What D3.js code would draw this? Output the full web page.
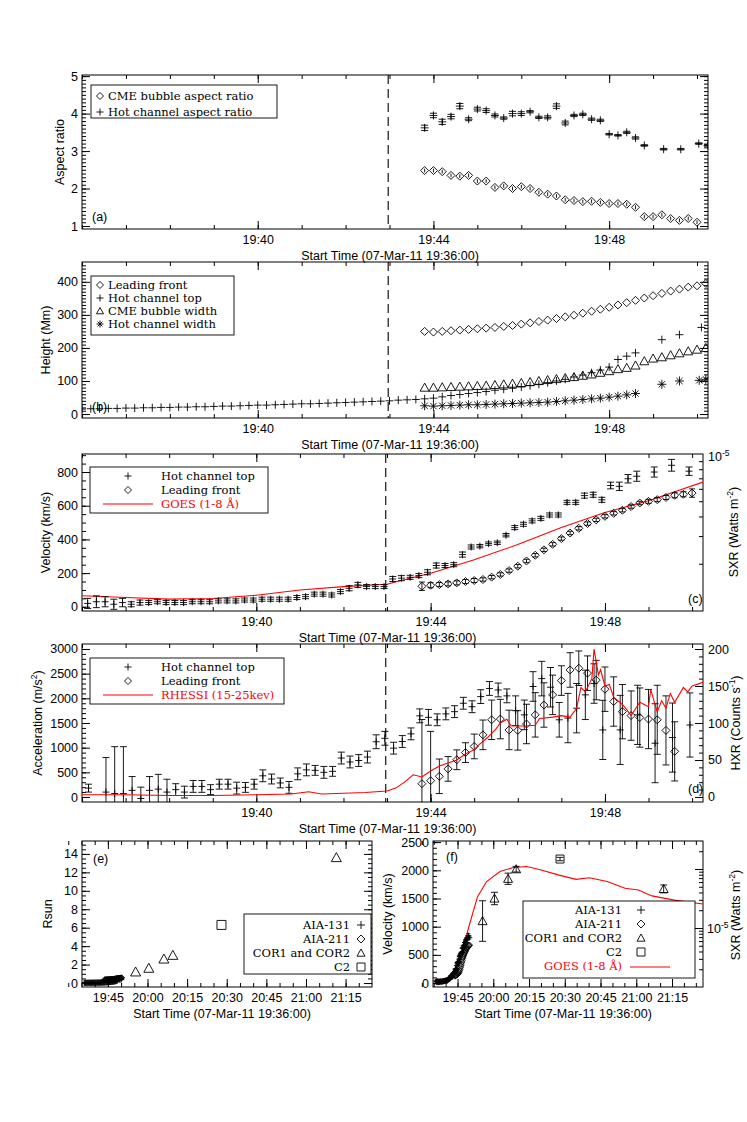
<!DOCTYPE html>
<html><head><meta charset="utf-8">
<script src="https://cdn.jsdelivr.net/npm/d3@7"></script>
<style>
body{margin:0;background:#fff}
text{font-family:"Liberation Sans",Arial,sans-serif;font-size:12.5px;fill:#000}
.leg{font-family:"DejaVu Serif",serif;font-size:11.5px}
</style></head><body>
<svg id="fig" width="747" height="1122"></svg>
<script>
// ---- data (time in minutes after 19:36:00) ----
const eruptT = 6.97;

// (a) aspect ratios
const bubbleArT = d3.range(7.8, 14.1, 0.2);
const bubbleAr = [2.48,2.48,2.45,2.35,2.33,2.35,2.2,2.2,2.03,2.07,2.0,2.05,2.0,1.9,1.85,1.8,1.7,1.68,1.65,1.66,1.63,1.6,1.6,1.58,1.5,1.25,1.25,1.3,1.2,1.15,1.2,1.1];
const hotArT = [7.8,8.0,8.2,8.4,8.6,8.8,9.0,9.2,9.4,9.6,9.8,10.0,10.2,10.4,10.6,10.8,11.0,11.2,11.4,11.6,11.8,12.0,12.2,12.4,12.6,12.8,13.24,13.63,14.04,14.24];
const hotAr = [3.62,3.95,3.78,3.92,4.2,3.85,4.12,4.08,3.95,3.88,4.0,4.0,4.05,3.9,3.9,4.2,3.75,3.95,3.98,3.85,3.82,3.45,3.42,3.5,3.35,3.15,3.05,3.05,3.2,3.15];
const hotArErr = [0.07,0.06,0.07,0.06,0.07,0.04,0.05,0.05,0.04,0.03,0.06,0.05,0.03,0.03,0.04,0.06,0.05,0.03,0.03,0.03,0.03,0.02,0.02,0.03,0.03,0.02,0.02,0.02,0.02,0.02];

// (b) heights (Mm)
const hotTopT = d3.range(0, 12.7, 0.2).concat([13.2, 13.6, 14.1]);
const hotTop = [15,16,16,17,17,18,18,19,19,20,20, 21,21,22,22,23,24,24,25,26,27, 27,28,29,30,31,31,32,33,34,35,
  36,37,38,39,40,42,43,44,46,48, 52,56,59,62,65,68,72,75,78,82, 86,90,95,100,105,112,118,125,133,142, 165,175,185, 225,240,262];
const frontT = d3.range(7.8, 14.3, 0.2);
const front = [250,248,250,252,254,256,258,260,262,265,268,272,276,280,284,289,294,299,305,311,317,323,330,337,344,351,358,365,372,378,384,388,395];
const bubbleW = [80,80,81,82,83,84,85,86,88,90,92,94,97,100,103,106,109,112,116,120,125,130,136,140,147,160,168,172,178,184,190,195,200];
const hotWT = d3.range(7.8, 12.7, 0.2).concat([13.2, 13.6, 14.05, 14.2]);
const hotW = [25,24,25,26,27,28,28,29,30,31,32,33,34,35,36,38,40,42,44,46,48,51,54,58,62, 90,100,102,105];

// (c) velocities (km/s)
const hotVelT = d3.range(0.13, 12.8, 0.2).concat([13.13, 13.53, 13.93]);
const hotVel = [20,30,30,15,25,15,25,25,30,25, 25,25,30,30,30,35,35,35,40,40, 45,45,45,45,55,60,75,75,70,90,
  110,130,120,120,120,165,170,175,185,205, 245,245,250,310,355,360,375,380,425,470,490,510,525,545,545,620,620,660,665,635,720,715,760,775, 800,840,805];
const hotVelErr = [30,35,30,30,25,15,15,12,12,12, 12,12,12,12,12,12,12,12,12,12, 12,12,12,12,12,12,12,12,12,12,
  15,15,12,12,12,15,15,12,12,15, 15,12,12,15,12,10,10,10,10,12,12,12,12,12,12,12,12,15,15,15,20,25,25,30, 30,35,25];
const frontVelT = d3.range(7.8, 14.1, 0.2);
const frontVel = [122,128,132,136,142,150,156,162,176,192,215,241,272,306,338,371,405,438,466,494,516,537,555,573,595,616,626,636,649,662,668,675];
const frontVelErr = [25,15,12,12,12,12,12,10,10,10,10,10,10,10,10,10,10,10,10,10,10,10,10,10,10,10,12,12,12,15,15,25];
const goesT = [0,1,2,3,4,5,6,7,7.5,8,9,10,11,12,13,14.25];
const goesFlux = [1.25,1.22,1.19,1.2,1.26,1.36,1.43,1.48,1.61,1.74,2.12,2.65,3.4,4.24,5.04,6.62]; // 1e-6 W m^-2

// (d) accelerations (m/s^2)
const hotAccT = [0.15,0.55].concat(d3.range(0.75, 12.0, 0.2), [12.35,12.75,13.15,13.55,13.95]);
const hotAcc = [180,100,70,70,135,-30,135,160,100,150,100,215,215,150,260,260,180,195,260,430,365,285,195,470,550,540,500,520,790,710,740,810,
  1120,1190,990,1125,1280,1645,1615,1565,1685,1730,1900,1830,2035,2200,2170,2050,1750,1665,2240,2400,2225,1565,1600,1800,2070,2300,1360,1360,1665,1090,1205,1460];
const hotAccErr = [80,700,950,950,280,230,280,300,260,120,120,120,120,100,100,100,120,100,100,120,100,100,120,120,120,100,120,100,120,120,120,120,
  140,140,120,120,120,140,160,120,120,120,120,120,140,140,140,140,300,300,300,350,400,350,500,500,500,400,600,700,600,800,700,650];
const frontAccT = d3.range(7.8, 13.7, 0.2);
const frontAcc = [270,330,420,570,755,900,1025,1260,1565,1580,1360,1350,1480,1665,1865,2070,2360,2575,2610,2510,2370,2185,1935,1730,1650,1610,1580,1565,1350,925];
const frontAccErr = [1300,1000,350,250,200,200,250,300,400,400,400,400,400,450,450,400,300,350,350,350,400,450,500,550,500,600,600,700,700,600];
const hxrT = [0,1,2,3,4,4.8,5.2,5.5,6,6.5,7,7.2,7.4,7.6,7.8,8.0,8.2,8.4,8.6,8.8,9.0,9.1,9.3,9.5,9.6,9.75,9.85,10.0,10.2,10.4,10.5,10.8,11.0,11.2,11.35,11.45,11.55,11.7,11.75,11.85,11.9,12.0,12.1,12.2,12.4,12.5,12.6,12.8,13.0,13.05,13.2,13.3,13.4,13.5,13.6,13.8,13.9,14.0,14.25];
const hxr = [3,3,2,2,3,4,7,4,5,6,8,12,20,30,27,35,42,46,50,58,64,70,80,92,100,105,96,96,96,97,106,108,110,108,120,148,142,160,200,165,172,150,152,135,125,118,110,128,122,145,115,130,120,140,128,148,142,150,155];

// (e)/(f) long time range
const corT = [19.5, 24.5, 30.2, 33.6, 95.5];
const corH = [1.2, 1.6, 2.6, 3.0, 13.6];
const corV = [1100, 1500, 1850, 2020, 1670];
const corVErr = [360, 110, 100, 50, 70];
const c2T = [52];
const c2H = [6.3];
const c2V = [2200];
const c2VErr = [30];
const goesFT = [-1.3,2.4,5.25,7.1,9.9,11.8,13.7,17.4,21.2,26.8,32.4,38,43.7,51.2,58.7,64.3,71.8,79.3,84.9,90.6,100,112];
const goesFFlux = [1.27,1.29,1.46,1.81,2.83,5.1,10.4,33.9,61.2,90.8,105.7,110,96.9,79.4,66.8,71.2,61.2,47.1,44.1,35.0,29.7,25.5]; // 1e-6 W m^-2
const mmPerRsun = 696;

// ---- drawing ----
const svg = d3.select("#fig");
svg.append("rect").attr("width", 747).attr("height", 1122).attr("fill", "#fff");

const hm = m => { const t = 19*60 + 36 + Math.round(m); return d3.format("02")(Math.floor(t/60)) + ":" + d3.format("02")(t % 60); };
const xTitle = "Start Time (07-Mar-11 19:36:00)";
let clipN = 0;

function sym(type, s) {
  if (type === "plus") return `M${-s},0H${s}M0,${-s}V${s}`;
  if (type === "diamond") return `M0,${-s}L${s},0L0,${s}L${-s},0Z`;
  if (type === "tri") return `M0,${-s}L${s},${s*0.8}L${-s},${s*0.8}Z`;
  if (type === "square") return `M${-s},${-s}H${s}V${s}H${-s}Z`;
  if (type === "star") { const d = s*0.7; return `M${-s},0H${s}M0,${-s}V${s}M${-d},${-d}L${d},${d}M${-d},${d}L${d},${-d}`; }
}

function panel(o) {
  const g = svg.append("g");
  const x = d3.scaleLinear().domain(o.xd).range([o.x0, o.x1]);
  const y = d3.scaleLinear().domain(o.yd).range([o.y1, o.y0]);
  const ax = (a) => a.tickSizeOuter(0);
  g.append("g").attr("transform", `translate(0,${o.y1})`)
    .call(ax(d3.axisBottom(x).tickValues(o.xminor).tickSize(-4).tickFormat("")));
  g.append("g").attr("transform", `translate(0,${o.y1})`)
    .call(ax(d3.axisBottom(x).tickValues(o.xt).tickSize(-8).tickPadding(6).tickFormat(hm)));
  g.append("g").attr("transform", `translate(0,${o.y0})`)
    .call(ax(d3.axisTop(x).tickValues(o.xminor).tickSize(-4).tickFormat("")));
  g.append("g").attr("transform", `translate(0,${o.y0})`)
    .call(ax(d3.axisTop(x).tickValues(o.xt).tickSize(-8).tickFormat("")));
  g.append("g").attr("transform", `translate(${o.x0},0)`)
    .call(ax(d3.axisLeft(y).tickValues(o.yminor).tickSize(-4).tickFormat("")));
  g.append("g").attr("transform", `translate(${o.x0},0)`)
    .call(ax(d3.axisLeft(y).tickValues(o.yt).tickSize(-8).tickPadding(4).tickFormat(d3.format("d"))));
  if (!o.noRightMirror) {
    g.append("g").attr("transform", `translate(${o.x1},0)`)
      .call(ax(d3.axisRight(y).tickValues(o.yminor).tickSize(-4).tickFormat("")));
    g.append("g").attr("transform", `translate(${o.x1},0)`)
      .call(ax(d3.axisRight(y).tickValues(o.yt).tickSize(-8).tickFormat("")));
  }
  g.selectAll(".domain").remove();
  g.selectAll(".tick text").style("font-size", "12.5px").style("font-family", "Liberation Sans, Arial, sans-serif");
  g.append("rect").attr("x", o.x0).attr("y", o.y0).attr("width", o.x1 - o.x0).attr("height", o.y1 - o.y0)
    .attr("fill", "none").attr("stroke", "#000").attr("stroke-width", 1);
  g.append("text").attr("x", (o.x0 + o.x1) / 2 - 5).attr("y", o.y1 + 31)
    .attr("text-anchor", "middle").text(xTitle);
  const yl = g.append("text").attr("transform", `translate(${o.ylx},${(o.y0 + o.y1) / 2}) rotate(-90)`)
    .attr("text-anchor", "middle");
  o.ylab(yl);
  g.append("text").attr("x", o.lab[0]).attr("y", o.lab[1]).text(o.lab[2]);
  const id = "clip" + (clipN++);
  svg.append("clipPath").attr("id", id).append("rect")
    .attr("x", o.x0).attr("y", o.y0).attr("width", o.x1 - o.x0).attr("height", o.y1 - o.y0);
  const data = svg.append("g").attr("clip-path", `url(#${id})`);
  const top = svg.append("g");
  return {g: data, top, x, y, ax: g};
}

function pts(p, xs, ys, type, s, yScale) {
  const ysc = yScale || p.y;
  p.g.append("g").selectAll("path").data(xs).join("path")
    .attr("d", sym(type, s))
    .attr("transform", (d, i) => `translate(${p.x(d)},${ysc(ys[i])})`)
    .attr("fill", "none").attr("stroke", "#000").attr("stroke-width", 0.9);
}
function errs(p, xs, ys, es, cap, col) {
  const g = p.g.append("g").attr("stroke", col || "#000").attr("stroke-width", 0.9);
  g.selectAll("path").data(xs).join("path").attr("d", (d, i) => {
    const px = p.x(d), a = p.y(ys[i] + es[i]), b = p.y(ys[i] - es[i]);
    return `M${px},${a}V${b}M${px - cap},${a}H${px + cap}M${px - cap},${b}H${px + cap}`;
  });
}
function dashed(p) {
  p.g.append("line").attr("x1", p.x(eruptT)).attr("x2", p.x(eruptT))
    .attr("y1", p.y.range()[1]).attr("y2", p.y.range()[0])
    .attr("stroke", "#000").attr("stroke-dasharray", "9,5").attr("stroke-width", 1.1);
}
function sup(t, main, s, tail) {
  t.append("tspan").text(main);
  t.append("tspan").attr("baseline-shift", "super").style("font-size", "8.5px").text(s);
  if (tail) t.append("tspan").text(tail);
}
function legendBox(p, x0, y0, x1, y1) {
  p.top.append("rect").attr("x", x0).attr("y", y0).attr("width", x1 - x0).attr("height", y1 - y0)
    .attr("fill", "#fff").attr("stroke", "#000").attr("stroke-width", 0.9);
}
function legText(p, x, y, s, col, anchor) {
  p.top.append("text").attr("class", "leg").attr("x", x).attr("y", y)
    .style("fill", col || "#000").attr("text-anchor", anchor || "start").text(s);
}
function legSym(p, x, y, type, s) {
  p.top.append("path").attr("d", sym(type, s)).attr("transform", `translate(${x},${y})`)
    .attr("fill", "none").attr("stroke", "#000").attr("stroke-width", 0.9);
}

const minorShort = d3.range(0, 14.3, 1);
const majShort = [4, 8, 12];

// (a)
const pa = panel({x0: 82, x1: 708, y0: 75, y1: 229, xd: [0, 14.25], yd: [0.92, 5.03],
  xt: majShort, xminor: minorShort, yt: [1, 2, 3, 4, 5], yminor: d3.range(1, 5.01, 0.1),
  ylx: 64, ylab: t => t.text("Aspect ratio"), lab: [92, 221, "(a)"]});
dashed(pa);
errs(pa, bubbleArT, bubbleAr, bubbleAr.map(() => 0.05), 0);
pts(pa, bubbleArT, bubbleAr, "diamond", 4);
errs(pa, hotArT, hotAr, hotArErr, 3.5);
pts(pa, hotArT, hotAr, "plus", 4);
legendBox(pa, 91, 85, 277, 118);
legSym(pa, 100, 96, "diamond", 3.5); legText(pa, 108, 100, "CME bubble aspect ratio");
legSym(pa, 100, 112, "plus", 3.5); legText(pa, 108, 116, "Hot channel aspect ratio");

// (b)
const pb = panel({x0: 82, x1: 708, y0: 262, y1: 418, xd: [0, 14.25], yd: [-12, 460],
  xt: majShort, xminor: minorShort, yt: [0, 100, 200, 300, 400], yminor: d3.range(0, 451, 10),
  ylx: 50, ylab: t => t.text("Height (Mm)"), lab: [92, 411, "(b)"]});
dashed(pb);
pts(pb, frontT, front, "diamond", 4);
pts(pb, hotTopT, hotTop, "plus", 4);
pts(pb, frontT, bubbleW, "tri", 4.5);
pts(pb, hotWT, hotW, "star", 4.5);
legendBox(pb, 91, 276, 234, 335);
[["diamond", "Leading front"], ["plus", "Hot channel top"], ["tri", "CME bubble width"], ["star", "Hot channel width"]]
  .forEach((e, i) => { legSym(pb, 100, 285 + i * 13, e[0], 3.5); legText(pb, 108, 289 + i * 13, e[1]); });

// (c)
const pc = panel({x0: 82, x1: 703, y0: 454, y1: 611, xd: [0, 14.25], yd: [-25, 907],
  xt: majShort, xminor: minorShort, yt: [0, 200, 400, 600, 800], yminor: d3.range(0, 901, 50),
  ylx: 50, ylab: t => t.text("Velocity (km/s)"), lab: [688, 603, "(c)"], noRightMirror: true});
const yGoes = d3.scaleLog().domain([1, 10]).range([611, 454]);
pc.ax.append("g").attr("transform", "translate(703,0)")
  .call(d3.axisRight(yGoes).tickValues(d3.range(2, 10)).tickSize(-4).tickFormat("").tickSizeOuter(0))
  .select(".domain").remove();
pc.ax.append("text").attr("x", 708).attr("y", 461).call(t => sup(t, "10", "-5"));
pc.ax.append("text").attr("transform", "translate(738,532) rotate(-90)").attr("text-anchor", "middle")
  .call(t => sup(t, "SXR (Watts m", "-2", ")"));
dashed(pc);
pc.g.append("path").datum(goesT).attr("fill", "none").attr("stroke", "#f00").attr("stroke-width", 1.1)
  .attr("d", d3.line().x(d => pc.x(d)).y((d, i) => yGoes(goesFlux[i])));
errs(pc, hotVelT, hotVel, hotVelErr, 3.5);
pts(pc, hotVelT, hotVel, "plus", 3.5);
errs(pc, frontVelT, frontVel, frontVelErr, 3);
pts(pc, frontVelT, frontVel, "diamond", 4);
legendBox(pc, 90, 467, 268, 513);
legSym(pc, 128, 476, "plus", 3.5); legText(pc, 161, 480, "Hot channel top");
legSym(pc, 128, 490, "diamond", 3.5); legText(pc, 161, 494, "Leading front");
pc.top.append("line").attr("x1", 103).attr("x2", 153).attr("y1", 504).attr("y2", 504).attr("stroke", "#f00");
legText(pc, 161, 508, "GOES (1-8 Å)", "#f00");

// (d)
const pd = panel({x0: 82, x1: 703, y0: 644, y1: 802, xd: [0, 14.25], yd: [-101, 3101],
  xt: majShort, xminor: minorShort, yt: d3.range(0, 3001, 500), yminor: d3.range(0, 3001, 100),
  ylx: 42, ylab: t => sup(t, "Acceleration (m/s", "2", ")"), lab: [688, 793, "(d)"], noRightMirror: true});
const yHxr = d3.scaleLinear().domain([-6.8, 206.8]).range([802, 644]);
const rd = pd.ax.append("g");
rd.append("g").attr("transform", "translate(703,0)")
  .call(d3.axisRight(yHxr).tickValues(d3.range(0, 201, 10)).tickSize(-4).tickFormat("").tickSizeOuter(0));
rd.append("g").attr("transform", "translate(703,0)")
  .call(d3.axisRight(yHxr).tickValues(d3.range(0, 201, 50)).tickSize(-8).tickPadding(5).tickSizeOuter(0));
rd.selectAll(".domain").remove();
rd.selectAll(".tick text").style("font-size", "12.5px");
pd.ax.append("text").attr("transform", "translate(740,723) rotate(-90)").attr("text-anchor", "middle")
  .call(t => sup(t, "HXR (Counts s", "-1", ")"));
dashed(pd);
errs(pd, hotAccT, hotAcc, hotAccErr, 3.5);
pts(pd, hotAccT, hotAcc, "plus", 3.5);
errs(pd, frontAccT, frontAcc, frontAccErr, 3.5);
pts(pd, frontAccT, frontAcc, "diamond", 4);
pd.g.append("path").datum(hxrT).attr("fill", "none").attr("stroke", "#f00").attr("stroke-width", 1.1)
  .attr("d", d3.line().x(d => pd.x(d)).y((d, i) => yHxr(hxr[i])));
legendBox(pd, 90, 658, 284, 704);
legSym(pd, 128, 667, "plus", 3.5); legText(pd, 161, 671, "Hot channel top");
legSym(pd, 128, 681, "diamond", 3.5); legText(pd, 161, 685, "Leading front");
pd.top.append("line").attr("x1", 103).attr("x2", 153).attr("y1", 695).attr("y2", 695).attr("stroke", "#f00");
legText(pd, 161, 699, "RHESSI (15-25kev)", "#f00");

// (e)
const longT = [9, 24, 39, 54, 69, 84, 99];
const pe = panel({x0: 82, x1: 372, y0: 841, y1: 987, xd: [-0.8, 109], yd: [-0.43, 15.4],
  xt: longT, xminor: d3.range(-6, 109, 5), yt: d3.range(0, 15, 2), yminor: d3.range(0, 15.1, 0.5),
  ylx: 52, ylab: t => t.text("Rsun"), lab: [93, 863, "(e)"]});
pts(pe, hotTopT, hotTop.map(v => v / mmPerRsun), "plus", 3);
pts(pe, frontT, front.map(v => v / mmPerRsun), "diamond", 3);
pts(pe, corT, corH, "tri", 5);
pts(pe, c2T, c2H, "square", 4.5);
legendBox(pe, 244, 914, 371, 974);
[["plus", "AIA-131"], ["diamond", "AIA-211"], ["tri", "COR1 and COR2"], ["square", "C2"]]
  .forEach((e, i) => { legText(pe, 350, 929 + i * 14, e[1], null, "end"); legSym(pe, 361, 925 + i * 14, e[0], 4); });

// (f)
const pf = panel({x0: 433, x1: 703, y0: 841, y1: 987, xd: [-1.3, 112], yd: [-70, 2520],
  xt: longT, xminor: d3.range(-6, 112, 5), yt: d3.range(0, 2501, 500), yminor: d3.range(0, 2501, 100),
  ylx: 392, ylab: t => t.text("Velocity (km/s)"), lab: [446, 861, "(f)"], noRightMirror: true});
const yGoesF = d3.scaleLog().domain([1, 298]).range([987, 841]);
const rf = pf.ax.append("g");
rf.append("g").attr("transform", "translate(703,0)")
  .call(d3.axisRight(yGoesF).tickValues(d3.range(2, 10).concat(d3.range(20, 100, 10), [200])).tickSize(-4).tickFormat("").tickSizeOuter(0));
rf.append("g").attr("transform", "translate(703,0)")
  .call(d3.axisRight(yGoesF).tickValues([10, 100]).tickSize(-8).tickFormat("").tickSizeOuter(0));
rf.selectAll(".domain").remove();
pf.ax.append("text").attr("x", 707).attr("y", 933).call(t => sup(t, "10", "-5"));
pf.ax.append("text").attr("transform", "translate(740,915) rotate(-90)").attr("text-anchor", "middle")
  .call(t => sup(t, "SXR (Watts m", "-2", ")"));
pf.g.append("path").datum(goesFT).attr("fill", "none").attr("stroke", "#f00").attr("stroke-width", 1.1)
  .attr("d", d3.line().x(d => pf.x(d)).y((d, i) => yGoesF(goesFFlux[i])));
errs(pf, hotVelT, hotVel, hotVelErr, 2);
pts(pf, hotVelT, hotVel, "plus", 3);
pts(pf, frontVelT, frontVel, "diamond", 3);
errs(pf, corT, corV, corVErr, 3.5);
pts(pf, corT, corV, "tri", 4.5);
errs(pf, c2T, c2V, c2VErr, 3.5);
pts(pf, c2T, c2V, "square", 4);
legendBox(pf, 523, 901, 695, 978);
[["plus", "AIA-131"], ["diamond", "AIA-211"], ["tri", "COR1 and COR2"], ["square", "C2"]]
  .forEach((e, i) => { legText(pf, 622, 914 + i * 14, e[1], null, "end"); legSym(pf, 641, 910 + i * 14, e[0], 4); });
legText(pf, 622, 970, "GOES (1-8 Å)", "#f00", "end");
pf.top.append("line").attr("x1", 630).attr("x2", 670).attr("y1", 967).attr("y2", 967).attr("stroke", "#f00");
</script>
</body></html>
